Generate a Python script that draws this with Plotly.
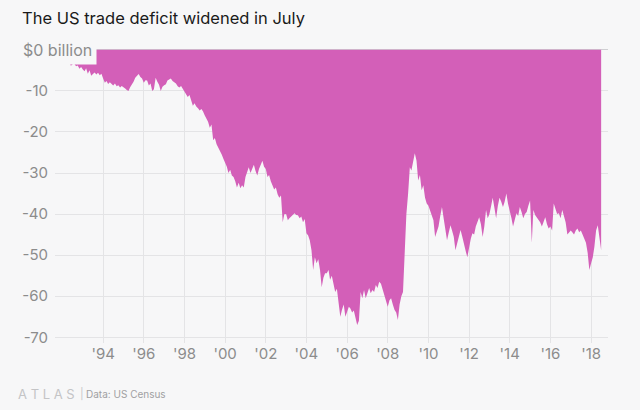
import pandas as pd
import plotly.graph_objects as go

# Monthly US trade balance, $ billions, Jan 1992 - Jul 2018
y1992 = [-2.4, -2.0, -2.8, -3.1, -3.0, -3.9, -3.5, -3.4, -4.0, -3.8, -4.6, -4.2]
y1993 = [-4.8, -5.2, -4.5, -5.8, -5.0, -6.3, -5.9, -5.5, -6.0, -5.6, -6.2, -5.8]
y1994 = [-7.0, -8.0, -7.6, -8.3, -7.9, -8.4, -8.7, -8.2, -8.9, -8.6, -9.2, -8.8]
y1995 = [-9.0, -9.4, -9.8, -10.0, -9.1, -8.5, -7.8, -6.8, -6.2, -5.9, -6.6, -7.0]
y1996 = [-8.0, -7.4, -7.5, -8.7, -8.2, -10.0, -9.6, -6.8, -7.8, -8.5, -10.0, -9.0]
y1997 = [-8.6, -8.4, -7.5, -7.2, -7.0, -7.6, -8.0, -8.2, -8.9, -9.2, -8.8, -9.5]
y1998 = [-10.2, -10.8, -11.5, -11.0, -12.6, -13.6, -13.0, -13.8, -14.2, -14.8, -14.4, -15.0]
y1999 = [-16.0, -16.8, -17.5, -19.0, -18.2, -22.0, -21.5, -23.0, -23.8, -24.5, -25.5, -26.5]
y2000 = [-27.5, -28.5, -30.0, -29.2, -30.6, -31.0, -32.0, -33.5, -32.4, -33.7, -33.0, -33.5]
y2001 = [-31.0, -29.5, -28.6, -30.0, -29.2, -28.0, -29.5, -30.6, -29.0, -28.0, -27.0, -28.5]
y2002 = [-29.0, -31.0, -30.5, -32.0, -33.0, -34.0, -33.5, -35.2, -36.0, -35.5, -42.0, -40.0]
y2003 = [-40.0, -41.5, -41.0, -40.5, -40.3, -39.8, -40.2, -40.3, -41.0, -40.6, -42.0, -41.2]
y2004 = [-44.7, -45.2, -46.4, -48.8, -53.6, -50.5, -52.0, -51.0, -53.6, -57.8, -55.5, -54.4]
y2005 = [-54.4, -53.6, -56.0, -55.0, -57.0, -59.0, -58.2, -61.5, -65.0, -63.3, -62.0, -65.0]
y2006 = [-64.0, -62.6, -63.0, -64.0, -63.5, -65.0, -67.0, -66.0, -59.0, -60.5, -58.5, -60.5]
y2007 = [-59.0, -58.0, -59.3, -58.5, -59.0, -57.3, -58.0, -56.5, -57.0, -58.5, -60.0, -61.0]
y2008 = [-62.6, -61.0, -60.5, -62.0, -63.3, -64.0, -65.8, -62.0, -60.0, -59.0, -48.0, -40.0]
y2009 = [-35.0, -28.6, -29.4, -27.5, -25.2, -27.0, -31.8, -30.5, -34.2, -33.0, -36.0, -37.4]
y2010 = [-38.0, -39.2, -40.3, -41.5, -45.6, -44.0, -43.0, -40.5, -38.3, -41.0, -43.5, -46.4]
y2011 = [-44.5, -42.7, -44.0, -45.5, -48.8, -47.0, -45.0, -43.9, -45.5, -47.5, -49.0, -50.5]
y2012 = [-48.0, -46.0, -44.7, -45.0, -43.0, -42.0, -40.8, -42.5, -45.6, -43.0, -39.0, -41.0]
y2013 = [-40.0, -38.0, -36.0, -38.5, -41.0, -38.0, -36.0, -37.0, -38.3, -37.0, -35.0, -37.5]
y2014 = [-39.0, -41.0, -43.0, -41.5, -39.8, -40.5, -38.3, -39.5, -41.0, -40.0, -39.5, -38.0]
y2015 = [-36.7, -47.0, -39.0, -40.2, -40.8, -41.5, -42.0, -43.0, -42.0, -40.8, -42.5, -43.5]
y2016 = [-43.0, -44.0, -37.4, -38.5, -40.0, -39.8, -41.0, -39.0, -40.5, -42.0, -45.0, -44.5]
y2017 = [-44.0, -44.5, -45.0, -44.0, -43.5, -44.4, -44.0, -45.0, -46.0, -47.0, -49.5, -53.6]
y2018 = [-52.0, -50.5, -48.0, -44.0, -42.7, -45.5, -48.8]

values = (y1992 + y1993 + y1994 + y1995 + y1996 + y1997 + y1998 + y1999 + y2000
          + y2001 + y2002 + y2003 + y2004 + y2005 + y2006 + y2007 + y2008 + y2009
          + y2010 + y2011 + y2012 + y2013 + y2014 + y2015 + y2016 + y2017 + y2018)
months = pd.date_range("1992-01-01", periods=len(values), freq="MS")

x_tick_years = [1994, 1996, 1998, 2000, 2002, 2004, 2006, 2008, 2010, 2012, 2014, 2016, 2018]
x_ticktext = ["'94", "'96", "'98", "'00", "'02", "'04", "'06", "'08", "'10", "'12", "'14", "'16", "'18"]
y_ticks = [-10, -20, -30, -40, -50, -60, -70]
y_ticktext = ["-10", "-20", "-30", "-40", "-50", "-60", "-70"]

BG = "#f7f7f8"
FILL = "#d35fb8"
GRID = "#e4e4e6"
TICK = "#8c8c8c"

fig = go.Figure()
fig.add_trace(go.Scatter(
    x=months, y=values, mode="lines", fill="tozeroy",
    line=dict(width=0, color=FILL, shape="linear"), fillcolor=FILL,
    hoverinfo="skip", showlegend=False,
))

fig.update_layout(
    width=640, height=410,
    margin=dict(l=55, r=32, t=49, b=67),
    paper_bgcolor=BG, plot_bgcolor=BG,
    font=dict(family="Inter, Roboto, sans-serif", color=TICK),
    xaxis=dict(
        range=["1991-08-20", "2018-11-01"],
        tickvals=[f"{y}-01-01" for y in x_tick_years], ticktext=x_ticktext,
        showgrid=True, gridcolor=GRID, gridwidth=1,
        zeroline=False, showline=False, ticks="",
        tickfont=dict(size=15, color=TICK),
    ),
    yaxis=dict(
        range=[-71.4, 0.2],
        tickvals=y_ticks, ticktext=y_ticktext,
        showgrid=True, gridcolor=GRID, gridwidth=1,
        zeroline=True, zerolinecolor="#cfcfd2", zerolinewidth=1,
        showline=False, ticks="", ticklabelstandoff=6,
        tickfont=dict(size=15, color=TICK),
    ),
    title=dict(
        text="The US trade deficit widened in July",
        x=22 / 640, xanchor="left", xref="container",
        y=1 - 18 / 410, yanchor="middle", yref="container",
        font=dict(size=16.5, color="#1a1a1a", family="Inter, Roboto, sans-serif"),
    ),
)

fig.add_annotation(
    text="$0 billion", xref="paper", yref="y",
    x=(18 - 55) / 553, y=0, xanchor="left", yanchor="middle",
    showarrow=False, bgcolor=BG, borderpad=4,
    font=dict(size=16, color=TICK),
)
fig.add_annotation(
    text="A T L A S", xref="paper", yref="paper",
    x=(16 - 55) / 553, y=-(394 - 343) / 294, xanchor="left", yanchor="middle",
    showarrow=False, font=dict(size=13, color="#c4c4c6"),
)
fig.add_annotation(
    text="|", xref="paper", yref="paper",
    x=(78 - 55) / 553, y=-(394 - 343) / 294, xanchor="left", yanchor="middle",
    showarrow=False, font=dict(size=11, color="#c8c8ca"),
)
fig.add_annotation(
    text="Data: US Census", xref="paper", yref="paper",
    x=(84 - 55) / 553, y=-(394 - 343) / 294, xanchor="left", yanchor="middle",
    showarrow=False, font=dict(size=10, color="#a0a0a2"),
)

fig.write_html("out.html")
